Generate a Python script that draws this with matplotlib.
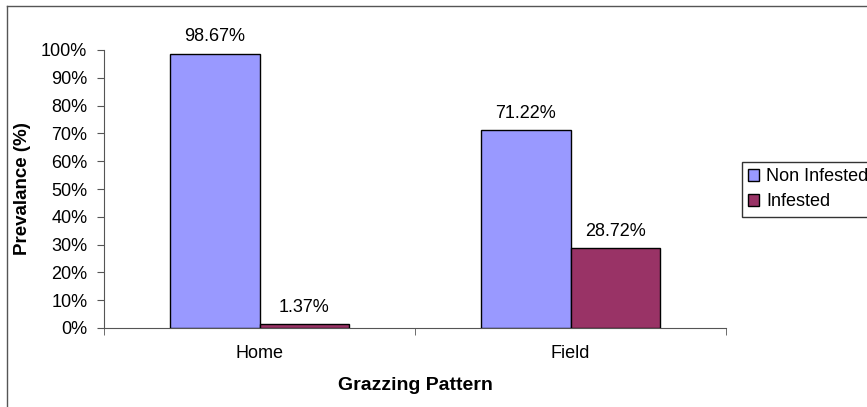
import matplotlib.pyplot as plt
import numpy as np
from matplotlib.lines import Line2D
from matplotlib.ticker import PercentFormatter

plt.rcParams["font.family"] = ["Liberation Sans", "DejaVu Sans"]

# Data
categories = ["Home", "Field"]
non_infested = [98.67, 71.22]
infested = [1.37, 28.72]
series_names = ["Non Infested", "Infested"]
colors = ["#9999FF", "#993366"]

fs = 13

fig = plt.figure(figsize=(8.67, 4.07), dpi=100)
# axes placed in pixel terms: left 104, right 726, bottom 328, top 50
W, H = 867, 407
ax = fig.add_axes([104 / W, 1 - 328 / H, (726 - 104) / W, (328 - 50) / H])

# outer chart border (right and bottom sides run off the image)
fig.add_artist(Line2D([6.5 / W, 6.5 / W], [0, 1 - 5.5 / H], transform=fig.transFigure,
                      color="#555555", linewidth=1.0))
fig.add_artist(Line2D([6.5 / W, 1], [1 - 5.5 / H, 1 - 5.5 / H], transform=fig.transFigure,
                      color="#555555", linewidth=1.0))

x = np.arange(len(categories))
bw = 0.288
for i, (vals, name, col) in enumerate(zip([non_infested, infested], series_names, colors)):
    pos = x + (i - 0.5) * bw
    bars = ax.bar(pos, vals, width=bw, color=col, edgecolor="black", linewidth=1.0,
                  label=name, zorder=3)
    for b, v in zip(bars, vals):
        ax.annotate(f"{v:.2f}%", (b.get_x() + b.get_width() / 2, v),
                    xytext=(0, 6), textcoords="offset points",
                    ha="center", va="bottom", fontsize=fs)

ax.set_xlim(-0.5, len(categories) - 0.5)
ax.set_ylim(0, 100)
ax.set_yticks(np.arange(0, 101, 10))
ax.yaxis.set_major_formatter(PercentFormatter(decimals=0))
ax.set_xticks(x)
ax.set_xticklabels(categories, fontsize=fs)
ax.set_xticks(np.arange(-0.5, len(categories), 1.0), minor=True)
ax.tick_params(axis="x", which="major", length=0, pad=12)
ax.tick_params(axis="x", which="minor", length=5, color="#555555", direction="out")
ax.tick_params(axis="y", length=5, color="#555555", direction="out", labelsize=fs, pad=7)

for s in ["top", "right"]:
    ax.spines[s].set_visible(False)
for s in ["left", "bottom"]:
    ax.spines[s].set_color("#555555")

ax.set_xlabel("Grazzing Pattern", fontsize=14, fontweight="bold", labelpad=11)
ax.set_ylabel("Prevalance (%)", fontsize=13.5, fontweight="bold", labelpad=7)

leg = fig.legend(loc="upper left", bbox_to_anchor=(742 / W, 1 - 162 / H), fontsize=fs,
                 frameon=True, fancybox=False, edgecolor="black", handlelength=0.6,
                 handleheight=0.6, handletextpad=0.4, borderpad=0.35, labelspacing=0.45,
                 borderaxespad=0)
leg.get_frame().set_linewidth(1.0)

fig.savefig("out.png", dpi=100)
